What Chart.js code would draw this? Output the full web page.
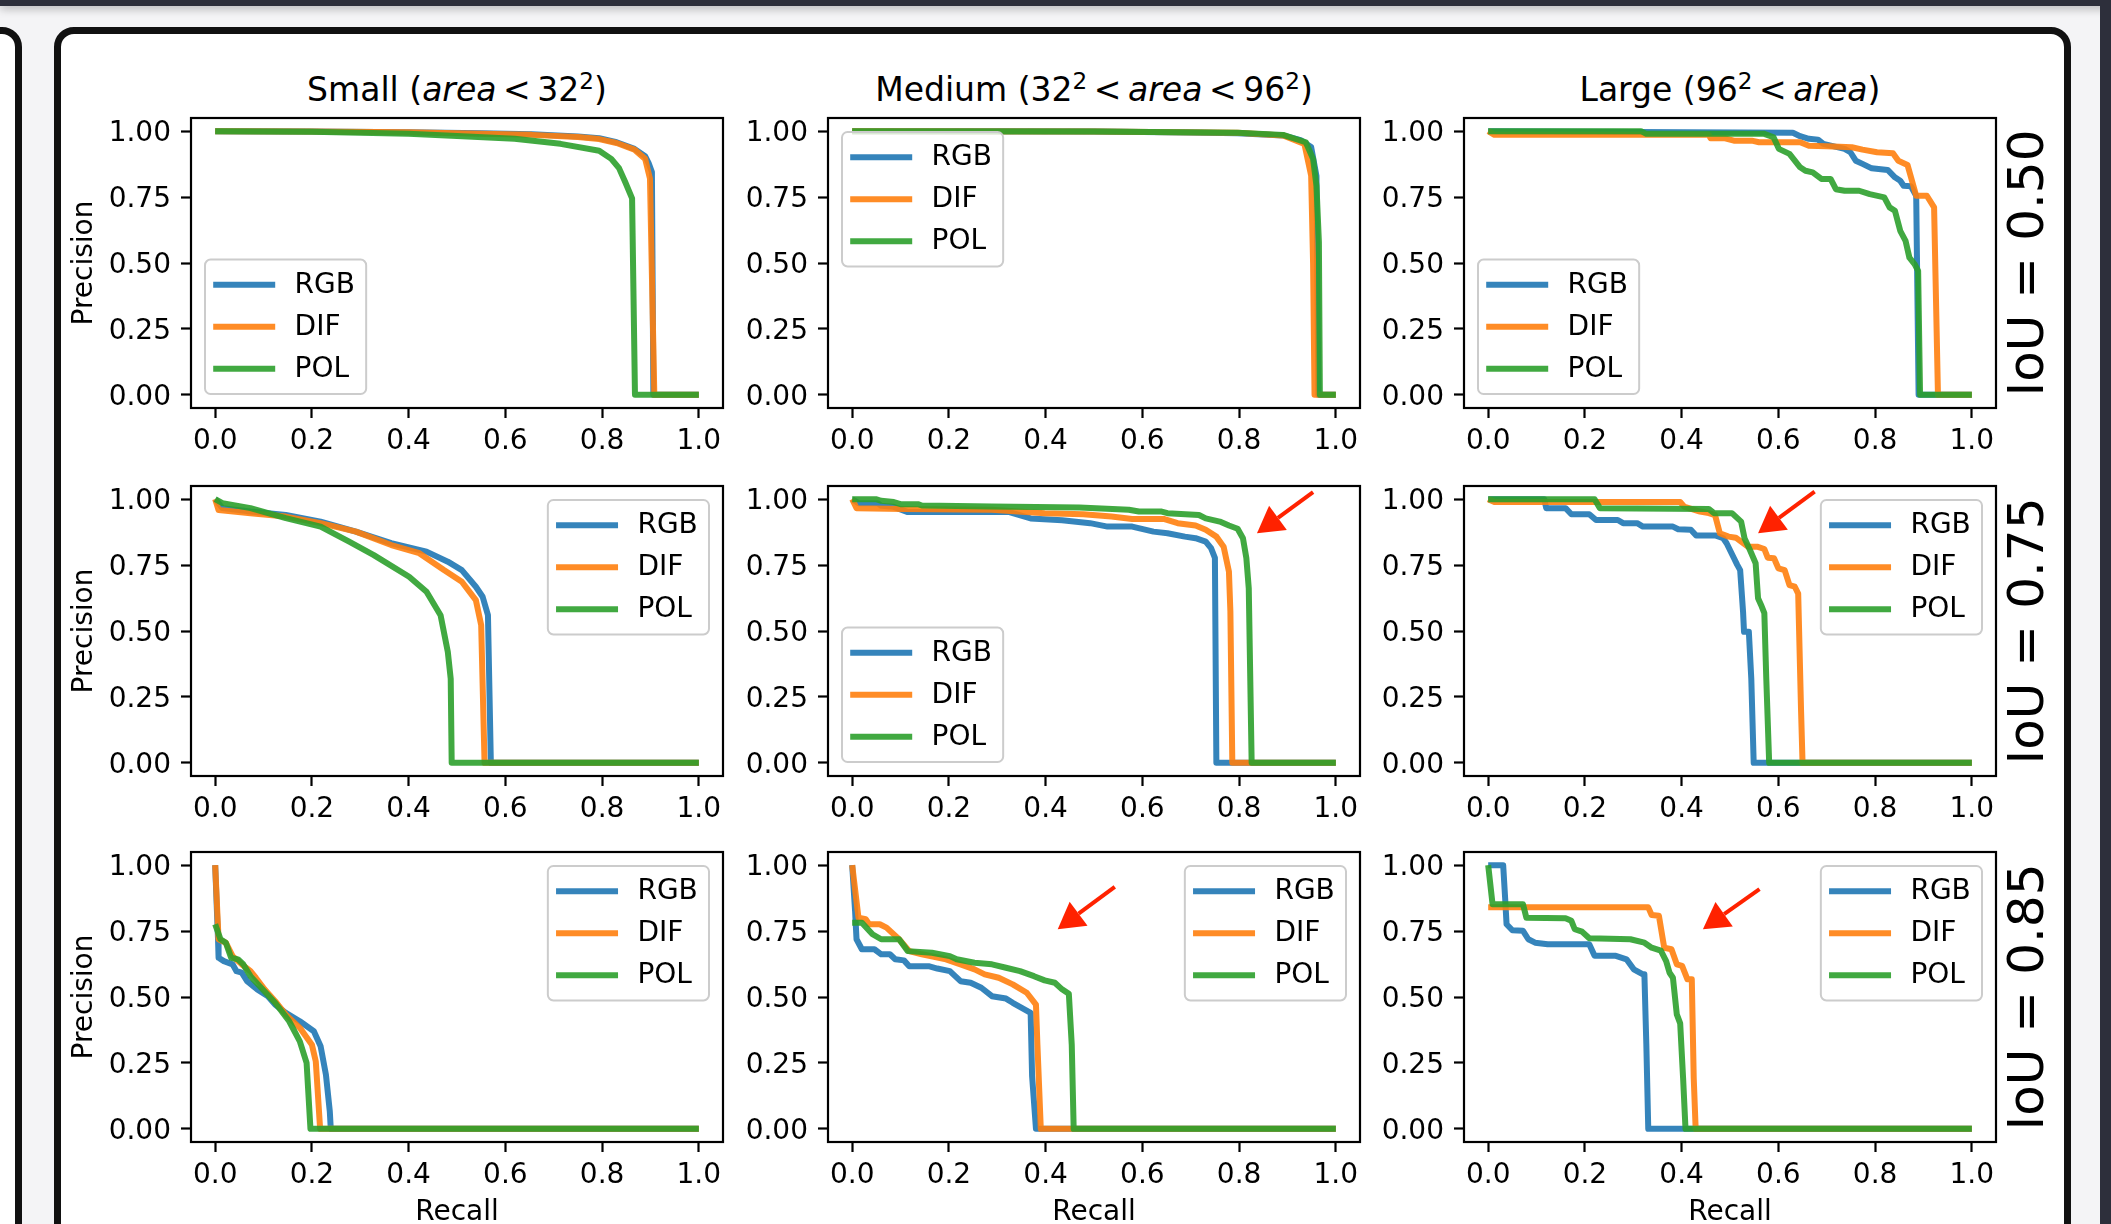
<!DOCTYPE html>
<html>
<head>
<meta charset="utf-8">
<script src="https://cdn.jsdelivr.net/npm/chart.js@4.4.0/dist/chart.umd.min.js"></script>
<style>
  html, body { margin: 0; padding: 0; }
  body { width: 2111px; height: 1224px; overflow: hidden; position: relative; background: #f4f4f6; font-family: 'DejaVu Sans', sans-serif; }
  .topbar { position: absolute; left: 0; top: 0; width: 2111px; height: 6px; background: #2d2f3b; box-shadow: 0 2px 10px rgba(0,0,0,0.35); z-index: 3; }
  .rightbar { position: absolute; left: 2100px; top: 0; width: 11px; height: 1224px; background: #2d2f3b; z-index: 3; }
  .card { position: absolute; box-sizing: border-box; background: #fff; border: 7px solid #111; border-radius: 20px; }
  .panel { position: absolute; z-index: 2; }
  .coltitle { position: absolute; width: 640px; text-align: center; font-size: 33px; line-height: 33px; color: #000; white-space: nowrap; z-index: 2; }
  .coltitle sup { font-size: 0.7em; line-height: 0; vertical-align: 0.5em; }
  .iou { position: absolute; font-size: 50px; line-height: 50px; color: #000; white-space: nowrap; transform: translate(-50%, -50%) rotate(-90deg); z-index: 2; }
</style>
</head>
<body>
<div class="topbar"></div>
<div class="rightbar"></div>
<div class="card" style="left:-300px; top:27px; width:322px; height:1400px;"></div>
<div class="card" style="left:54px; top:27px; width:2017px; height:1400px;"></div>

<script>
const recallTicks = [0, 0.2, 0.4, 0.6, 0.8, 1.0];
const recallTickLabels = ['0.0', '0.2', '0.4', '0.6', '0.8', '1.0'];
const precisionTicks = [0, 0.25, 0.5, 0.75, 1.0];
const precisionTickLabels = ['0.00', '0.25', '0.50', '0.75', '1.00'];

const methods = ['RGB', 'DIF', 'POL'];
const methodColors = ['rgba(31,119,180,0.9)', 'rgba(255,127,14,0.9)', 'rgba(44,160,44,0.9)'];

const sizeTitles = [
    'Small (<i>area</i>&#8201;&lt;&#8201;32<sup>2</sup>)',
    'Medium (32<sup>2</sup>&#8201;&lt;&#8201;<i>area</i>&#8201;&lt;&#8201;96<sup>2</sup>)',
    'Large (96<sup>2</sup>&#8201;&lt;&#8201;<i>area</i>)'
];
const iouLabels = ['IoU = 0.50', 'IoU = 0.75', 'IoU = 0.85'];

// PR curves as [recall, precision]
const small050RGB = [[0,1],[0.2,0.999],[0.4,0.996],[0.55,0.992],[0.655,0.988],[0.75,0.98],[0.794,0.973],[0.83,0.958],[0.867,0.933],[0.889,0.905],[0.896,0.88],[0.903,0.845],[0.906,0],[1,0]];
const small050DIF = [[0,1],[0.2,0.999],[0.4,0.996],[0.55,0.99],[0.655,0.986],[0.75,0.978],[0.794,0.97],[0.83,0.955],[0.867,0.93],[0.889,0.895],[0.899,0.82],[0.908,0],[1,0]];
const small050POL = [[0,1],[0.2,0.998],[0.4,0.99],[0.5,0.982],[0.619,0.971],[0.714,0.952],[0.794,0.926],[0.819,0.895],[0.835,0.86],[0.848,0.806],[0.862,0.745],[0.868,0],[1,0]];

const medium050RGB = [[0,1],[0.3,1],[0.5,0.999],[0.6,0.997],[0.7,0.995],[0.797,0.992],[0.891,0.984],[0.927,0.966],[0.949,0.94],[0.96,0.83],[0.964,0],[1,0]];
const medium050DIF = [[0,1],[0.5,0.999],[0.797,0.994],[0.891,0.984],[0.935,0.952],[0.949,0.831],[0.953,0.5],[0.956,0],[1,0]];
const medium050POL = [[0,1],[0.5,0.999],[0.797,0.994],[0.891,0.986],[0.938,0.958],[0.953,0.895],[0.96,0.793],[0.965,0.58],[0.967,0],[1,0]];

const large050RGB = [[0,1],[0.3,0.997],[0.63,0.994],[0.645,0.981],[0.663,0.971],[0.682,0.968],[0.693,0.952],[0.737,0.933],[0.749,0.92],[0.76,0.888],[0.774,0.876],[0.793,0.859],[0.826,0.853],[0.841,0.825],[0.852,0.812],[0.859,0.793],[0.874,0.791],[0.885,0.755],[0.89,0],[1,0]];
const large050DIF = [[0,1],[0.013,0.986],[0.456,0.986],[0.46,0.973],[0.49,0.973],[0.508,0.964],[0.545,0.964],[0.56,0.958],[0.645,0.958],[0.663,0.945],[0.7,0.943],[0.752,0.939],[0.774,0.93],[0.804,0.92],[0.837,0.916],[0.848,0.888],[0.867,0.872],[0.885,0.755],[0.907,0.755],[0.922,0.711],[0.93,0],[1,0]];
const large050POL = [[0,1],[0.316,1],[0.327,0.99],[0.571,0.99],[0.59,0.977],[0.601,0.933],[0.623,0.914],[0.645,0.863],[0.656,0.85],[0.671,0.844],[0.689,0.819],[0.708,0.819],[0.719,0.78],[0.737,0.774],[0.767,0.774],[0.789,0.761],[0.819,0.749],[0.83,0.711],[0.841,0.698],[0.852,0.622],[0.863,0.584],[0.871,0.52],[0.882,0.495],[0.889,0.47],[0.893,0],[1,0]];

const small075RGB = [[0,1],[0.015,0.966],[0.073,0.953],[0.146,0.94],[0.218,0.915],[0.291,0.877],[0.364,0.833],[0.437,0.801],[0.481,0.763],[0.51,0.731],[0.539,0.668],[0.553,0.63],[0.564,0.56],[0.57,0],[1,0]];
const small075DIF = [[0,1],[0.007,0.959],[0.073,0.947],[0.146,0.934],[0.218,0.909],[0.291,0.877],[0.364,0.826],[0.422,0.795],[0.473,0.731],[0.51,0.687],[0.539,0.617],[0.55,0.522],[0.557,0],[1,0]];
const small075POL = [[0,1],[0.015,0.985],[0.073,0.966],[0.146,0.928],[0.218,0.896],[0.277,0.839],[0.328,0.788],[0.401,0.706],[0.437,0.649],[0.466,0.56],[0.481,0.421],[0.487,0.319],[0.489,0],[1,0]];

const medium075RGB = [[0,1],[0.013,0.985],[0.053,0.985],[0.06,0.975],[0.086,0.971],[0.115,0.951],[0.325,0.951],[0.369,0.927],[0.434,0.92],[0.492,0.909],[0.528,0.896],[0.579,0.896],[0.623,0.877],[0.652,0.871],[0.688,0.858],[0.71,0.852],[0.731,0.839],[0.742,0.814],[0.75,0.777],[0.753,0],[1,0]];
const medium075DIF = [[0,1],[0.009,0.966],[0.107,0.963],[0.289,0.96],[0.398,0.947],[0.478,0.943],[0.536,0.934],[0.579,0.925],[0.644,0.925],[0.673,0.909],[0.71,0.9],[0.731,0.884],[0.753,0.858],[0.768,0.82],[0.779,0.725],[0.782,0.573],[0.786,0],[1,0]];
const medium075POL = [[0,1],[0.049,1],[0.06,0.994],[0.086,0.989],[0.1,0.981],[0.136,0.981],[0.144,0.976],[0.289,0.972],[0.47,0.968],[0.572,0.96],[0.593,0.953],[0.64,0.953],[0.652,0.947],[0.717,0.94],[0.731,0.927],[0.76,0.915],[0.779,0.9],[0.797,0.888],[0.808,0.852],[0.815,0.777],[0.82,0.662],[0.826,0],[1,0]];

const large075RGB = [[0,1],[0.116,1],[0.12,0.966],[0.16,0.966],[0.172,0.943],[0.209,0.943],[0.223,0.921],[0.268,0.921],[0.279,0.909],[0.308,0.909],[0.32,0.896],[0.382,0.896],[0.393,0.886],[0.419,0.884],[0.43,0.862],[0.471,0.862],[0.486,0.852],[0.493,0.833],[0.508,0.777],[0.515,0.751],[0.521,0.731],[0.527,0.573],[0.529,0.497],[0.539,0.497],[0.544,0.32],[0.549,0],[1,0]];
const large075DIF = [[0,1],[0.013,0.989],[0.397,0.989],[0.405,0.972],[0.438,0.953],[0.456,0.947],[0.469,0.94],[0.479,0.871],[0.497,0.858],[0.512,0.854],[0.523,0.839],[0.537,0.82],[0.556,0.82],[0.571,0.811],[0.578,0.778],[0.591,0.776],[0.6,0.738],[0.613,0.731],[0.623,0.674],[0.634,0.668],[0.641,0.642],[0.647,0.193],[0.65,0],[1,0]];
const large075POL = [[0,1],[0.22,1],[0.231,0.966],[0.456,0.963],[0.467,0.947],[0.504,0.947],[0.523,0.915],[0.53,0.852],[0.541,0.808],[0.553,0.757],[0.558,0.624],[0.564,0.6],[0.571,0.568],[0.575,0.32],[0.581,0],[1,0]];

const small085RGB = [[0,1],[0.006,0.713],[0.007,0.649],[0.018,0.636],[0.036,0.624],[0.044,0.598],[0.055,0.592],[0.066,0.56],[0.087,0.529],[0.109,0.503],[0.124,0.471],[0.146,0.44],[0.175,0.408],[0.204,0.37],[0.218,0.313],[0.229,0.205],[0.237,0.066],[0.239,0],[1,0]];
const small085DIF = [[0,1],[0.007,0.719],[0.022,0.706],[0.036,0.655],[0.055,0.624],[0.073,0.598],[0.084,0.573],[0.102,0.529],[0.124,0.484],[0.146,0.433],[0.175,0.383],[0.2,0.319],[0.208,0.256],[0.217,0],[1,0]];
const small085POL = [[0,0.776],[0.011,0.719],[0.022,0.706],[0.033,0.649],[0.047,0.643],[0.058,0.624],[0.073,0.579],[0.095,0.535],[0.124,0.478],[0.153,0.408],[0.175,0.332],[0.189,0.25],[0.197,0],[1,0]];

const medium085RGB = [[0,1],[0.006,0.826],[0.009,0.719],[0.02,0.681],[0.046,0.681],[0.06,0.662],[0.078,0.662],[0.089,0.643],[0.107,0.639],[0.118,0.617],[0.158,0.617],[0.176,0.608],[0.202,0.598],[0.224,0.56],[0.245,0.554],[0.267,0.535],[0.289,0.503],[0.318,0.494],[0.332,0.478],[0.369,0.44],[0.372,0.2],[0.38,0],[1,0]];
const medium085DIF = [[0,1],[0.013,0.801],[0.028,0.795],[0.035,0.776],[0.057,0.776],[0.071,0.763],[0.097,0.719],[0.118,0.674],[0.144,0.662],[0.194,0.643],[0.224,0.624],[0.253,0.605],[0.274,0.586],[0.303,0.573],[0.332,0.548],[0.361,0.516],[0.38,0.471],[0.383,0.319],[0.39,0],[1,0]];
const medium085POL = [[0,0.782],[0.02,0.782],[0.042,0.738],[0.06,0.719],[0.097,0.719],[0.115,0.674],[0.165,0.668],[0.202,0.655],[0.216,0.643],[0.253,0.63],[0.289,0.624],[0.318,0.611],[0.347,0.598],[0.376,0.579],[0.398,0.563],[0.419,0.554],[0.434,0.529],[0.448,0.512],[0.454,0.319],[0.458,0],[1,0]];

const large085RGB = [[0,1],[0.031,1],[0.035,0.877],[0.038,0.776],[0.05,0.753],[0.072,0.751],[0.083,0.719],[0.097,0.706],[0.123,0.7],[0.209,0.7],[0.22,0.656],[0.264,0.656],[0.286,0.643],[0.301,0.605],[0.32,0.586],[0.323,0.586],[0.327,0.32],[0.331,0],[1,0]];
const large085DIF = [[0,0.84],[0.331,0.84],[0.338,0.811],[0.353,0.808],[0.364,0.687],[0.379,0.681],[0.39,0.624],[0.401,0.618],[0.412,0.567],[0.421,0.567],[0.425,0.193],[0.429,0],[1,0]];
const large085POL = [[0,1],[0.009,0.852],[0.072,0.852],[0.079,0.801],[0.16,0.799],[0.172,0.789],[0.179,0.757],[0.194,0.748],[0.209,0.723],[0.294,0.719],[0.323,0.706],[0.338,0.687],[0.357,0.676],[0.368,0.636],[0.375,0.592],[0.382,0.573],[0.39,0.434],[0.397,0.4],[0.403,0.193],[0.408,0],[1,0]];

// red arrows: [tail recall, tail precision, tip recall, tip precision]
const arrowMedium075 = [0.953, 1.027, 0.837, 0.871];
const arrowLarge075 = [0.675, 1.029, 0.558, 0.871];
const arrowMedium085 = [0.543, 0.918, 0.425, 0.757];
const arrowLarge085 = [0.561, 0.909, 0.444, 0.757];

const curves = [
    [[small050RGB, small050DIF, small050POL], [medium050RGB, medium050DIF, medium050POL], [large050RGB, large050DIF, large050POL]],
    [[small075RGB, small075DIF, small075POL], [medium075RGB, medium075DIF, medium075POL], [large075RGB, large075DIF, large075POL]],
    [[small085RGB, small085DIF, small085POL], [medium085RGB, medium085DIF, medium085POL], [large085RGB, large085DIF, large085POL]]
];
const arrows = [
    [null, null, null],
    [null, arrowMedium075, arrowLarge075],
    [null, arrowMedium085, arrowLarge085]
];
const legendLoc = [
    ['lower left', 'upper left', 'lower left'],
    ['upper right', 'lower left', 'upper right'],
    ['upper right', 'upper right', 'upper right']
];

// page geometry
const axLeft = [191, 828, 1464];
const axTop = [118, 486, 852];
const axW = 532, axH = 290;
const yAxisW = 135, padTop = 40, padRight = 40, xAxisH = 110;
const fontSize = 28;

Chart.defaults.font.family = "'DejaVu Sans'";
Chart.defaults.color = '#000';

const axesBox = {
    id: 'axesBox',
    afterDatasetsDraw(chart) {
        const {ctx, chartArea: a} = chart;
        ctx.save();
        ctx.strokeStyle = '#000';
        ctx.lineWidth = 2.2;
        ctx.strokeRect(a.left, a.top, a.right - a.left, a.bottom - a.top);
        ctx.restore();
    }
};

const redArrow = {
    id: 'redArrow',
    afterDraw(chart, args, opts) {
        const a = opts.arrow;
        if (!a) return;
        const ctx = chart.ctx;
        const x0 = chart.scales.x.getPixelForValue(a[0]);
        const y0 = chart.scales.y.getPixelForValue(a[1]);
        const x1 = chart.scales.x.getPixelForValue(a[2]);
        const y1 = chart.scales.y.getPixelForValue(a[3]);
        const ang = Math.atan2(y1 - y0, x1 - x0);
        const headLen = 26, headW = 30;
        const bx = x1 - headLen * Math.cos(ang);
        const by = y1 - headLen * Math.sin(ang);
        const nx = -Math.sin(ang), ny = Math.cos(ang);
        ctx.save();
        ctx.strokeStyle = '#ff2200';
        ctx.fillStyle = '#ff2200';
        ctx.lineWidth = 4;
        ctx.beginPath();
        ctx.moveTo(x0, y0);
        ctx.lineTo(bx, by);
        ctx.stroke();
        ctx.beginPath();
        ctx.moveTo(x1, y1);
        ctx.lineTo(bx + nx * headW / 2, by + ny * headW / 2);
        ctx.lineTo(bx - nx * headW / 2, by - ny * headW / 2);
        ctx.closePath();
        ctx.fill();
        ctx.restore();
    }
};

const mplLegend = {
    id: 'mplLegend',
    afterDraw(chart, args, opts) {
        const {ctx, chartArea: a} = chart;
        const fs = fontSize;
        const pad = 0.4 * fs, handle = 2 * fs, gap = 0.8 * fs, rowStep = 1.5 * fs, border = 0.5 * fs;
        ctx.save();
        ctx.font = fs + "px 'DejaVu Sans'";
        const sets = chart.data.datasets;
        let textW = 0;
        sets.forEach(d => { textW = Math.max(textW, ctx.measureText(d.label).width); });
        const w = pad + handle + gap + textW + pad;
        const h = 2 * pad + sets.length * fs + (sets.length - 1) * 0.5 * fs;
        const left = opts.loc.indexOf('left') >= 0 ? a.left + border : a.right - border - w;
        const top = opts.loc.indexOf('upper') >= 0 ? a.top + border : a.bottom - border - h;
        ctx.beginPath();
        ctx.roundRect(left, top, w, h, 0.2 * fs);
        ctx.fillStyle = 'rgba(255,255,255,0.8)';
        ctx.fill();
        ctx.strokeStyle = '#cccccc';
        ctx.lineWidth = 2;
        ctx.stroke();
        sets.forEach((d, i) => {
            const y = top + pad + 0.5 * fs + i * rowStep;
            ctx.beginPath();
            ctx.strokeStyle = d.borderColor;
            ctx.lineWidth = d.borderWidth;
            ctx.lineCap = 'square';
            ctx.moveTo(left + pad, y);
            ctx.lineTo(left + pad + handle, y);
            ctx.stroke();
            ctx.fillStyle = '#000';
            ctx.textBaseline = 'middle';
            ctx.textAlign = 'left';
            ctx.fillText(d.label, left + pad + handle + gap, y + 1);
        });
        ctx.restore();
    }
};

function addTitles() {
    for (let c = 0; c < 3; c++) {
        const el = document.createElement('div');
        el.className = 'coltitle';
        el.innerHTML = sizeTitles[c];
        el.style.left = (axLeft[c] + axW / 2 - 320) + 'px';
        el.style.top = '73px';
        document.body.appendChild(el);
    }
    for (let r = 0; r < 3; r++) {
        const el = document.createElement('div');
        el.className = 'iou';
        el.textContent = iouLabels[r];
        el.style.left = '2026px';
        el.style.top = (axTop[r] + axH / 2) + 'px';
        document.body.appendChild(el);
    }
}

function drawPanel(r, c) {
    const canvas = document.createElement('canvas');
    canvas.className = 'panel';
    canvas.width = yAxisW + axW + padRight;
    canvas.height = padTop + axH + xAxisH;
    canvas.style.left = (axLeft[c] - yAxisW) + 'px';
    canvas.style.top = (axTop[r] - padTop) + 'px';
    document.body.appendChild(canvas);

    const datasets = methods.map((name, k) => ({
        label: name,
        data: curves[r][c][k].map(p => ({x: p[0], y: p[1]})),
        borderColor: methodColors[k],
        borderWidth: 6,
        pointRadius: 0,
        tension: 0,
        fill: false,
        order: 2 - k,
        borderJoinStyle: 'round',
        borderCapStyle: 'butt'
    }));

    new Chart(canvas.getContext('2d'), {
        type: 'line',
        data: {datasets: datasets},
        options: {
            responsive: false,
            animation: false,
            devicePixelRatio: 1,
            layout: {padding: {left: 0, top: padTop, right: padRight, bottom: 0}, autoPadding: false},
            plugins: {
                legend: {display: false},
                tooltip: {enabled: false},
                mplLegend: {loc: legendLoc[r][c]},
                redArrow: {arrow: arrows[r][c]}
            },
            scales: {
                x: {
                    type: 'linear',
                    min: -0.05,
                    max: 1.05,
                    afterBuildTicks: s => { s.ticks = recallTicks.map(v => ({value: v})); },
                    afterFit: s => { s.height = xAxisH; },
                    ticks: {
                        autoSkip: false,
                        maxRotation: 0,
                        padding: 7,
                        font: {size: fontSize},
                        color: '#000',
                        callback: (v, i) => recallTickLabels[i]
                    },
                    grid: {drawOnChartArea: false, drawTicks: true, tickLength: 10, tickWidth: 2.2, tickColor: '#000'},
                    border: {display: false},
                    title: {
                        display: r === 2,
                        text: 'Recall',
                        color: '#000',
                        font: {size: fontSize},
                        padding: {top: 0, bottom: 22}
                    }
                },
                y: {
                    type: 'linear',
                    min: -0.05,
                    max: 1.05,
                    afterBuildTicks: s => { s.ticks = precisionTicks.map(v => ({value: v})); },
                    afterFit: s => { s.width = yAxisW; },
                    ticks: {
                        padding: 10,
                        labelOffset: 3,
                        font: {size: fontSize},
                        color: '#000',
                        callback: (v, i) => precisionTickLabels[i]
                    },
                    grid: {drawOnChartArea: false, drawTicks: true, tickLength: 10, tickWidth: 2.2, tickColor: '#000'},
                    border: {display: false},
                    title: {
                        display: c === 0,
                        text: 'Precision',
                        color: '#000',
                        font: {size: fontSize},
                        padding: {top: 12, bottom: 0}
                    }
                }
            }
        },
        plugins: [axesBox, redArrow, mplLegend]
    });
}

addTitles();
for (let r = 0; r < 3; r++) {
    for (let c = 0; c < 3; c++) {
        drawPanel(r, c);
    }
}
</script>
</body>
</html>
